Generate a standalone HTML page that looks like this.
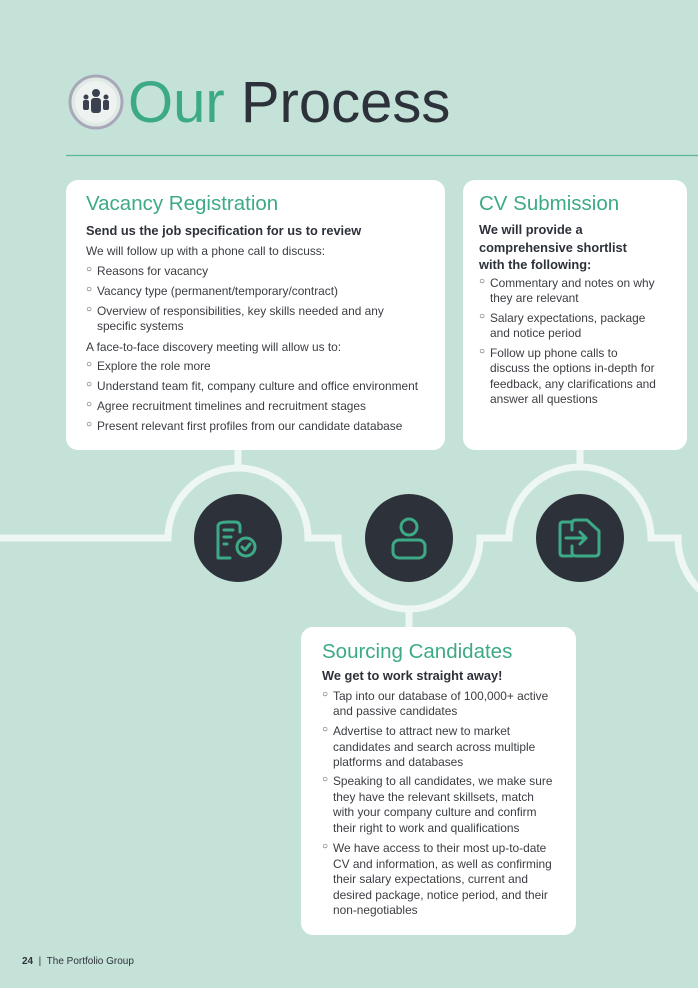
<!DOCTYPE html>
<html><head><meta charset="utf-8"><style>
*{margin:0;padding:0;box-sizing:border-box}
body{width:698px;height:988px;background:#c5e2d9;position:relative;overflow:hidden;font-family:"Liberation Sans",sans-serif;color:#3a3d42}
.card{position:absolute;background:#fff;border-radius:12px}
.t{position:absolute;white-space:nowrap;font-size:11.9px;letter-spacing:0;line-height:15px}
.h{position:absolute;white-space:nowrap;font-size:20.5px;color:#3daa87;letter-spacing:0}
.s{position:absolute;white-space:nowrap;font-size:12.8px;font-weight:bold;color:#2d3139;letter-spacing:0}
.b{position:absolute;font-size:10px;color:#3a3d42}
</style></head><body>
<svg width="698" height="988" style="position:absolute;left:0;top:0">
<line x1="66" y1="155.5" x2="698" y2="155.5" stroke="#5bb896" stroke-width="1.2"/>
<g fill="none" stroke="#eef7f4" stroke-width="7">
<path d="M0 538 H168 A70 70 0 0 1 308 538 H338 A71 71 0 0 0 480 538 H509 A71 71 0 0 1 651 538 H678 A71 71 0 0 0 700 590"/>
<line x1="238" y1="450" x2="238" y2="468"/>
<line x1="580" y1="450" x2="580" y2="468"/>
<line x1="409" y1="609" x2="409" y2="628"/>
</g>
<circle cx="238" cy="538" r="44" fill="#2d3139"/>
<circle cx="409" cy="538" r="44" fill="#2d3139"/>
<circle cx="580" cy="538" r="44" fill="#2d3139"/>
<g fill="none" stroke="#3daa87" stroke-width="3" stroke-linecap="round" stroke-linejoin="round">
<path d="M227 522 H235 Q240 522 240 527 V532 M228 522 Q217 522 218 527 V558 H230"/>
<line x1="224" y1="530" x2="233" y2="530"/><line x1="224" y1="537" x2="231" y2="537"/><line x1="224" y1="544" x2="227" y2="544"/>
<circle cx="246" cy="547" r="9"/><path d="M242 547 l3 3 l5 -6"/>
<circle cx="409" cy="527" r="8"/><rect x="393" y="540" width="32" height="18" rx="6"/>
<path d="M572 522 H563 Q560 522 560 525 V553 Q560 556 563 556 H572"/>
<path d="M572 530 V524 Q572 520 576 520 H587 L599 531 V552 Q599 556 595 556 H576 Q572 556 572 552 V546"/>
<path d="M566 538 H586 M580 532 L586 538 L580 544"/>
</g>
<circle cx="96" cy="102" r="26" fill="#dfe9e6" stroke="#a8a8b8" stroke-width="3"/>
<circle cx="96" cy="102" r="21" fill="#eef3f1"/>
<g fill="#3a4250"><circle cx="96" cy="93" r="4"/><rect x="91" y="98" width="10" height="15" rx="3"/><circle cx="86" cy="97" r="2.5"/><rect x="83" y="100" width="6" height="10" rx="2"/><circle cx="106" cy="97" r="2.5"/><rect x="103" y="100" width="6" height="10" rx="2"/></g>
</svg>
<div style="position:absolute;left:128px;top:69px;font-size:58px;letter-spacing:0;white-space:nowrap"><span style="color:#3daa87">Our</span> <span style="color:#2d3139">Process</span></div>

<div class="card" style="left:66px;top:180px;width:379px;height:270px"></div>
<div class="card" style="left:463px;top:180px;width:224px;height:270px"></div>
<div class="card" style="left:301px;top:627px;width:275px;height:308px"></div>

<div class="h" style="left:86px;top:192px">Vacancy Registration</div>
<div class="s" style="left:86px;top:223px">Send us the job specification for us to review</div>
<div class="t" style="left:86px;top:244px">We will follow up with a phone call to discuss:</div>
<div class="b" style="left:86px;top:264px">○</div><div class="t" style="left:97px;top:264px">Reasons for vacancy</div>
<div class="b" style="left:86px;top:284px">○</div><div class="t" style="left:97px;top:284px">Vacancy type (permanent/temporary/contract)</div>
<div class="b" style="left:86px;top:304px">○</div><div class="t" style="left:97px;top:304px">Overview of responsibilities, key skills needed and any<br>specific systems</div>
<div class="t" style="left:86px;top:340px">A face-to-face discovery meeting will allow us to:</div>
<div class="b" style="left:86px;top:359px">○</div><div class="t" style="left:97px;top:359px">Explore the role more</div>
<div class="b" style="left:86px;top:379px">○</div><div class="t" style="left:97px;top:379px">Understand team fit, company culture and office environment</div>
<div class="b" style="left:86px;top:399px">○</div><div class="t" style="left:97px;top:399px">Agree recruitment timelines and recruitment stages</div>
<div class="b" style="left:86px;top:419px">○</div><div class="t" style="left:97px;top:419px">Present relevant first profiles from our candidate database</div>

<div class="h" style="left:479px;top:192px">CV Submission</div>
<div class="s" style="left:479px;top:221px;line-height:17.5px">We will provide a<br>comprehensive shortlist<br>with the following:</div>
<div class="b" style="left:479px;top:276px">○</div><div class="t" style="left:490px;top:276px">Commentary and notes on why<br>they are relevant</div>
<div class="b" style="left:479px;top:311px">○</div><div class="t" style="left:490px;top:311px">Salary expectations, package<br>and notice period</div>
<div class="b" style="left:479px;top:346px">○</div><div class="t" style="left:490px;top:346px;line-height:15.3px">Follow up phone calls to<br>discuss the options in-depth for<br>feedback, any clarifications and<br>answer all questions</div>

<div class="h" style="left:322px;top:640px">Sourcing Candidates</div>
<div class="s" style="left:322px;top:668px">We get to work straight away!</div>
<div class="b" style="left:322px;top:689px">○</div><div class="t" style="left:333px;top:689px">Tap into our database of 100,000+ active<br>and passive candidates</div>
<div class="b" style="left:322px;top:724px">○</div><div class="t" style="left:333px;top:724px;line-height:15.5px">Advertise to attract new to market<br>candidates and search across multiple<br>platforms and databases</div>
<div class="b" style="left:322px;top:774px">○</div><div class="t" style="left:333px;top:774px;line-height:15.5px">Speaking to all candidates, we make sure<br>they have the relevant skillsets, match<br>with your company culture and confirm<br>their right to work and qualifications</div>
<div class="b" style="left:322px;top:841px">○</div><div class="t" style="left:333px;top:841px;line-height:15.5px">We have access to their most up-to-date<br>CV and information, as well as confirming<br>their salary expectations, current and<br>desired package, notice period, and their<br>non-negotiables</div>

<div style="position:absolute;left:22px;top:956px;font-size:10px;color:#2d3139;white-space:nowrap"><b>24</b> &nbsp;|&nbsp; The Portfolio Group</div>
</body></html>
